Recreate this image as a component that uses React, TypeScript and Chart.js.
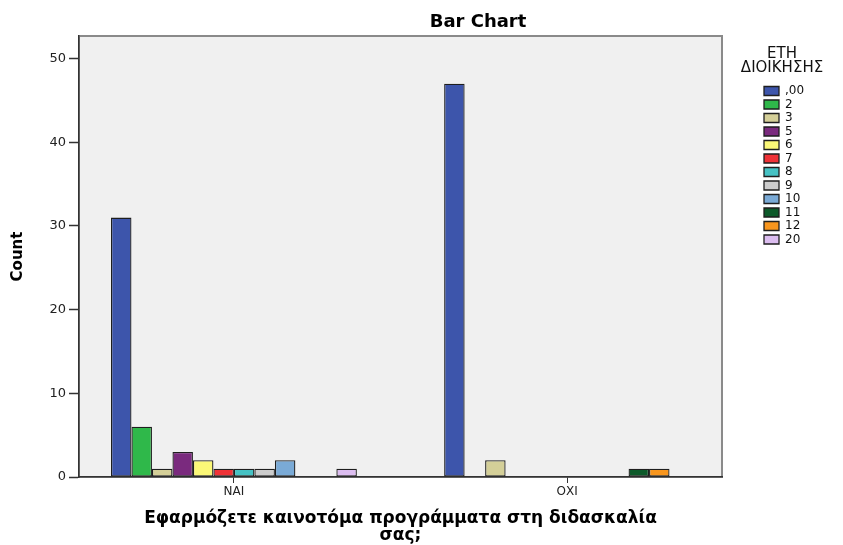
import React, { useEffect, useRef } from 'react';
import { Chart, registerables } from 'chart.js';

Chart.register(...registerables);

const categories = ['ΝΑΙ', 'ΟΧΙ'];
const seriesLabels = [',00', '2', '3', '5', '6', '7', '8', '9', '10', '11', '12', '20'];
const countsNai = [31, 6, 1, 3, 2, 1, 1, 1, 2, null, null, 1];
const countsOxi = [47, null, 2, null, null, null, null, null, null, 1, 1, null];
const seriesColors = [
  '#3d55ab', '#2fb84a', '#d4cf98', '#7a2a7e', '#fbf877', '#ef3237',
  '#46c2c4', '#cccccc', '#7aaad6', '#0d5a2a', '#f8961e', '#dcbdf0',
];
const yTicks = [0, 10, 20, 30, 40, 50];
const chartTitle = 'Bar Chart';
const yTitle = 'Count';
const xTitle = ['Εφαρμόζετε καινοτόμα προγράμματα στη διδασκαλία', 'σας;'];
const legendTitle = ['ΕΤΗ', 'ΔΙΟΙΚΗΣΗΣ'];

const FAMILY = "'DejaVu Sans', sans-serif";

const framePlugin = {
  id: 'frame',
  beforeDraw(chart: any) {
    const { ctx, chartArea } = chart;
    const { left, top, right, bottom } = chartArea;
    ctx.save();
    ctx.fillStyle = '#f0f0f0';
    ctx.fillRect(left, top, right - left, bottom - top);
    ctx.strokeStyle = '#8a8a8a';
    ctx.lineWidth = 2;
    ctx.strokeRect(left, top, right - left, bottom - top);
    ctx.restore();
  },
};

const placeBoxesPlugin = {
  id: 'placeBoxes',
  afterLayout(chart: any) {
    const tb = chart.titleBlock;
    if (tb) {
      const w = 240;
      const cx = 478;
      tb.left = cx - w / 2;
      tb.right = cx + w / 2;
      tb.width = w;
    }
    const sub = chart.boxes.find((b: any) => tb && b !== tb && b.constructor === tb.constructor);
    if (sub) {
      const w = 140;
      const cx = 782;
      sub.left = cx - w / 2;
      sub.right = cx + w / 2;
      sub.width = w;
      sub.top = 47;
      sub.bottom = 75;
      sub.height = 28;
    }
    const lg = chart.legend;
    if (lg) {
      lg.left = 762.5;
      lg.top = 83.5;
      lg.right = 843;
      lg.bottom = 545;
      lg.width = lg.right - lg.left;
      lg.height = lg.bottom - lg.top;
    }
  },
};

export default function App() {
  const canvasRef = useRef<HTMLCanvasElement | null>(null);

  useEffect(() => {
    const canvas = canvasRef.current;
    if (!canvas) return;
    const datasets = seriesLabels.map((label, i) => ({
      label,
      data: [
        { x: 0, y: countsNai[i] },
        { x: 1, y: countsOxi[i] },
      ],
      backgroundColor: seriesColors[i],
      borderColor: '#1e1e1e',
      borderWidth: 1.3,
      borderSkipped: false,
    }));

    const chart = new Chart(canvas, {
      type: 'bar',
      data: { datasets } as any,
      plugins: [framePlugin, placeBoxesPlugin],
      options: {
        animation: false,
        responsive: false,
        events: [],
        categoryPercentage: 0.738,
        barPercentage: 1,
        layout: { padding: { left: 0, top: 0, right: 121, bottom: 0 } },
        plugins: {
          title: {
            display: true,
            text: chartTitle,
            color: '#000',
            font: { family: FAMILY, size: 18, weight: 'bold', lineHeight: 1.2 },
            padding: { top: 12, bottom: 2.4 },
          },
          subtitle: {
            display: true,
            text: legendTitle,
            color: '#111',
            font: { family: FAMILY, size: 15, weight: 'normal', lineHeight: 0.95 },
            padding: { top: 0, bottom: -28.5 },
          },
          legend: {
            display: true,
            position: 'chartArea',
            align: 'start',
            labels: {
              font: { family: FAMILY, size: 12 },
              color: '#111',
              boxWidth: 15,
              boxHeight: 9,
              padding: 1.5,
            },
          },
          tooltip: { enabled: false },
        },
        scales: {
          x: {
            type: 'linear',
            offset: false,
            min: -0.465,
            max: 1.465,
            afterBuildTicks: (s: any) => {
              s.ticks = categories.map((_, i) => ({ value: i }));
            },
            afterFit: (s: any) => {
              s.height = 68;
            },
            ticks: {
              callback: (v: any) => categories[v as number] ?? '',
              font: { family: FAMILY, size: 12 },
              color: '#222',
              padding: 2,
              autoSkip: false,
              maxRotation: 0,
            },
            grid: { offset: false, drawOnChartArea: false, drawTicks: true, tickLength: 6, color: '#333', tickWidth: 1 },
            border: { color: '#333', width: 1.5 },
            title: {
              display: true,
              text: xTitle,
              color: '#000',
              font: { family: FAMILY, size: 17, weight: 'bold', lineHeight: 1 },
              padding: { top: 0, bottom: 1 },
            },
          },
          y: {
            type: 'linear',
            min: 0,
            max: 52.7,
            afterBuildTicks: (s: any) => {
              s.ticks = yTicks.map((v) => ({ value: v }));
            },
            afterFit: (s: any) => {
              s.width = 79;
            },
            ticks: {
              font: { family: FAMILY, size: 13 },
              color: '#222',
              padding: 3,
            },
            grid: { drawOnChartArea: false, drawTicks: true, tickLength: 10, color: '#333', tickWidth: 1.5 },
            border: { color: '#333', width: 1.5 },
            title: {
              display: true,
              text: yTitle,
              color: '#000',
              font: { family: FAMILY, size: 15, weight: 'bold', lineHeight: 1.2 },
              padding: { top: 9, bottom: 0 },
            },
          },
        },
      } as any,
    });
    return () => chart.destroy();
  }, []);

  return (
    <div style={{ position: 'fixed', left: 0, top: 0, width: 843, height: 545, background: '#fff' }}>
      <canvas ref={canvasRef} width={843} height={545} />
    </div>
  );
}
